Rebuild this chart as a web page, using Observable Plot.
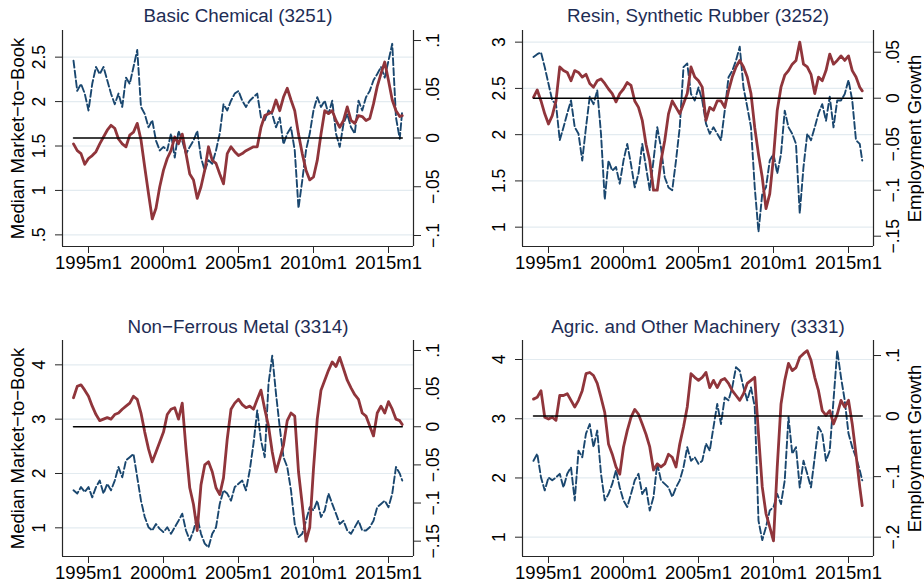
<!DOCTYPE html>
<html>
<head>
<meta charset="utf-8">
<script src="https://cdn.jsdelivr.net/npm/d3@7"></script>
<script src="https://cdn.jsdelivr.net/npm/@observablehq/plot@0.6"></script>
<style>
  html, body { margin: 0; padding: 0; background: #fff; }
  #grid { display: grid; grid-template-columns: 462px 462px; grid-template-rows: 294px 294px; width: 924px; height: 588px; }
  #grid svg { display: block; overflow: visible; }
</style>
</head>
<body>
<div id="grid"></div>
<script>
// Quarterly observations from 1994m1, plus the closing 2015m12 month.
const dates = d3.range(88).map(i => 1994 + i / 4).concat([2015 + 11 / 12]);
const yearTicks = [1995, 2000, 2005, 2010, 2015];

// Basic Chemical (3251)
const chemMtb = [
  2.46, 2.12, 2.20, 2.09,  1.90, 2.20, 2.39, 2.31,  2.39, 2.24, 2.09, 1.97,  2.09, 1.94, 2.27, 2.20,
  2.39, 2.58, 1.94, 1.86,  1.71, 1.79, 1.56, 1.45,  1.49, 1.45, 1.64, 1.37,  1.67, 1.56, 1.41, 1.49,
  1.56, 1.67, 1.37, 1.22,  1.34, 1.30, 1.45, 1.64,  1.97, 1.90, 2.01, 2.09,  2.12, 2.01, 1.94, 2.01,
  2.05, 2.09, 1.82, 1.79,  1.90, 1.86, 1.71, 1.82,  1.52, 1.64, 1.71, 1.45,  0.80, 1.11, 1.45, 1.64,
  1.90, 2.05, 1.94, 2.01,  1.86, 2.01, 1.64, 1.49,  1.75, 1.86, 1.71, 1.64,  2.01, 1.90, 2.05, 2.12,
  2.24, 2.31, 2.39, 2.27,  2.46, 2.65, 1.82, 1.58,  1.90
];
const chemEmp = [
  -0.006, -0.013, -0.016, -0.027,  -0.021, -0.018, -0.014, -0.006,  0.001, 0.008, 0.013, 0.010,  -0.001, -0.006, -0.009, 0.003,
  0.006, 0.015, -0.002, -0.030,  -0.057, -0.083, -0.072, -0.050,  -0.033, -0.021, -0.013, 0.001,  -0.006, 0.004, -0.016, -0.037,
  -0.043, -0.062, -0.050, -0.033,  -0.009, -0.023, -0.026, -0.037,  -0.047, -0.016, -0.009, -0.014,  -0.018, -0.016, -0.013, -0.011,
  -0.009, -0.009, 0.011, 0.023,  0.025, 0.027, 0.039, 0.028,  0.042, 0.051, 0.039, 0.028,  0.004, -0.016, -0.033, -0.043,
  -0.040, -0.023, 0.004, 0.028,  0.025, 0.028, 0.018, 0.011,  0.018, 0.032, 0.018, 0.015,  0.023, 0.022, 0.018, 0.020,
  0.035, 0.053, 0.066, 0.078,  0.059, 0.039, 0.028, 0.022,  0.023
];

// Resin, Synthetic Rubber (3252)
const resinMtb = [
  2.84, 2.87, 2.89, 2.73,  2.55, 2.37, 2.33, 1.94,  2.08, 2.23, 2.37, 2.08,  2.01, 1.72, 2.08, 2.41,
  2.33, 2.48, 2.01, 1.30,  1.72, 1.61, 1.65, 1.47,  1.72, 1.90, 1.68, 1.43,  1.58, 1.90, 1.65, 1.40,
  1.72, 2.08, 1.86, 1.54,  1.43, 1.40, 1.72, 2.08,  2.73, 2.77, 2.44, 2.37,  2.51, 2.37, 2.12, 2.01,
  2.08, 2.01, 1.94, 2.26,  2.62, 2.69, 2.80, 2.95,  2.51, 2.30, 2.08, 1.43,  0.95, 1.36, 1.43, 1.72,
  1.79, 1.58, 1.79, 2.26,  2.08, 2.01, 1.90, 1.15,  1.65, 2.01, 1.94, 2.08,  2.23, 2.33, 2.15, 2.41,
  2.08, 2.37, 2.37, 2.44,  2.59, 2.37, 1.94, 1.90,  1.72
];
const resinEmp = [
  0.001, 0.009, -0.003, -0.017,  -0.028, -0.019, -0.003, 0.034,  0.030, 0.028, 0.019, 0.030,  0.028, 0.023, 0.026, 0.016,
  0.012, 0.019, 0.021, 0.016,  0.010, 0.005, -0.004, 0.005,  0.010, 0.017, 0.014, -0.003,  -0.010, -0.024, -0.050, -0.068,
  -0.100, -0.100, -0.068, -0.046,  -0.017, -0.003, -0.010, -0.017,  -0.006, 0.005, 0.034, 0.023,  0.019, 0.012, -0.024, -0.010,
  -0.013, -0.003, -0.003, -0.010,  0.008, 0.023, 0.034, 0.041,  0.034, 0.023, 0.005, -0.032,  -0.061, -0.086, -0.120, -0.104,
  -0.064, -0.013, 0.012, 0.025,  0.030, 0.037, 0.041, 0.061,  0.037, 0.034, 0.026, 0.005,  0.023, 0.019, 0.030, 0.048,
  0.037, 0.041, 0.046, 0.041,  0.046, 0.030, 0.023, 0.012,  0.008
];

// Non-Ferrous Metal (3314)
const metalMtb = [
  1.69, 1.63, 1.75, 1.66,  1.75, 1.56, 1.75, 1.87,  1.63, 1.81, 1.69, 1.87,  2.12, 1.93, 2.24, 2.30,
  2.36, 1.93, 1.50, 1.20,  1.01, 0.95, 1.07, 0.98,  0.92, 1.01, 0.89, 1.01,  1.13, 1.26, 0.95, 0.77,
  0.95, 1.20, 0.89, 0.71,  0.64, 0.89, 1.01, 1.44,  1.69, 1.63, 1.50, 1.75,  1.81, 1.87, 1.69, 2.06,
  2.55, 3.16, 2.61, 2.30,  3.65, 4.17, 3.47, 2.85,  2.30, 2.12, 1.69, 1.07,  0.83, 0.89, 1.13, 1.38,
  1.32, 1.50, 1.20, 1.32,  1.63, 1.44, 1.26, 1.07,  1.13, 0.95, 0.89, 1.01,  1.13, 0.95, 0.95, 1.01,
  1.13, 1.38, 1.44, 1.50,  1.38, 1.63, 2.12, 2.00,  1.87
];
const metalEmp = [
  0.038, 0.053, 0.055, 0.048,  0.040, 0.027, 0.016, 0.008,  0.010, 0.012, 0.010, 0.016,  0.018, 0.023, 0.027, 0.031,
  0.040, 0.036, 0.018, -0.007,  -0.029, -0.046, -0.033, -0.020,  -0.007, 0.016, 0.023, 0.025,  0.010, 0.031, -0.029, -0.080,
  -0.102, -0.136, -0.076, -0.050,  -0.046, -0.059, -0.080, -0.089,  -0.067, -0.016, 0.023, 0.031,  0.036, 0.029, 0.025, 0.027,
  0.023, 0.036, 0.048, 0.023,  0.001, -0.033, -0.059, -0.042,  -0.024, 0.008, 0.018, 0.014,  -0.059, -0.102, -0.150, -0.132,
  -0.055, 0.010, 0.048, 0.061,  0.074, 0.085, 0.079, 0.091,  0.076, 0.061, 0.051, 0.042,  0.036, 0.018, 0.014, 0.001,
  -0.012, 0.018, 0.027, 0.018,  0.033, 0.023, 0.010, 0.008,  0.003
];

// Agric. and Other Machinery (3331)
const machMtb = [
  2.29, 2.41, 2.01, 1.79,  2.01, 1.96, 2.01, 2.07,  1.84, 2.07, 2.18, 1.62,  2.46, 2.35, 2.75, 2.91,
  2.52, 2.80, 2.07, 1.62,  1.73, 1.90, 2.13, 1.84,  1.62, 1.51, 1.73, 1.96,  2.07, 1.73, 1.84, 1.45,
  1.68, 2.24, 1.96, 1.90,  1.84, 1.68, 1.84, 1.96,  2.18, 2.52, 2.29, 2.35,  2.24, 2.29, 2.58, 2.46,
  2.86, 3.25, 2.91, 3.36,  3.31, 3.53, 3.87, 3.81,  3.53, 3.31, 3.53, 3.20,  1.28, 0.95, 1.17, 1.45,
  1.51, 1.73, 1.56, 1.96,  3.03, 2.41, 2.52, 1.84,  2.29, 2.07, 1.84, 2.35,  2.86, 2.75, 2.29, 2.46,
  3.31, 4.15, 3.70, 3.31,  2.75, 2.52, 2.35, 2.13,  1.96
];
const machEmp = [
  0.028, 0.031, 0.042, -0.002,  -0.005, -0.002, -0.007, 0.034,  0.034, 0.037, 0.026, 0.015,  0.026, 0.042, 0.070, 0.072,
  0.067, 0.054, 0.031, 0.006,  -0.046, -0.063, -0.084, -0.096,  -0.051, -0.024, -0.002, 0.011,  0.003, -0.013, -0.030, -0.051,
  -0.089, -0.079, -0.084, -0.079,  -0.063, -0.068, -0.084, -0.046,  -0.018, 0.015, 0.070, 0.064,  0.059, 0.064, 0.072, 0.047,
  0.059, 0.047, 0.059, 0.062,  0.054, 0.042, 0.034, 0.026,  0.037, 0.054, 0.059, 0.064,  -0.030, -0.117, -0.161, -0.183,
  -0.206, -0.084, 0.020, 0.059,  0.087, 0.075, 0.080, 0.097,  0.103, 0.108, 0.092, 0.064,  0.042, 0.009, 0.001, 0.009,
  -0.013, 0.003, 0.026, 0.015,  0.026, -0.013, -0.063, -0.117,  -0.148
];

const titles = ["Basic Chemical (3251)", "Resin, Synthetic Rubber (3252)", "Non\u2212Ferrous Metal (3314)", "Agric. and Other Machinery  (3331)"];
const leftTitle = "Median Market\u2212to\u2212Book";
const rightTitle = "Employment Growth";

const mtbTicks = [[0.5, 1, 1.5, 2, 2.5], [1, 1.5, 2, 2.5, 3], [1, 2, 3, 4], [1, 2, 3, 4]];
const empTicks = [[-0.1, -0.05, 0, 0.05, 0.1], [-0.15, -0.1, -0.05, 0, 0.05], [-0.15, -0.1, -0.05, 0, 0.05, 0.1], [-0.2, -0.1, 0, 0.1]];

const panels = [
  {title: titles[0], mtb: chemMtb,  emp: chemEmp,  yDomain: [0.369, 2.80], gDomain: [-0.1113, 0.1103], row: 0, col: 0},
  {title: titles[1], mtb: resinMtb, emp: resinEmp, yDomain: [0.791, 3.126], gDomain: [-0.1612, 0.0736], row: 0, col: 1},
  {title: titles[2], mtb: metalMtb, emp: metalEmp, yDomain: [0.472, 4.448], gDomain: [-0.1701, 0.1131], row: 1, col: 0},
  {title: titles[3], mtb: machMtb,  emp: machEmp,  yDomain: [0.674, 4.321], gDomain: [-0.2319, 0.1248], row: 1, col: 1}
];

// Stata-style labels: ".05", "−.1", "0"
const stataNum = v => {
  const s = String(+v.toFixed(3)).replace(/^(-?)0\./, "$1.");
  return s.replace("-", "\u2212");
};

const BLUE = "#1a476f", RED = "#90353b", GRID = "#e3ebf0", AXIS = "#262626", TITLE = "#1e2d55";
const FONT = "'Liberation Sans', Arial, Helvetica, sans-serif";

function drawPanel(p, k) {
  const [yb, yt] = p.yDomain;
  const [gb, gt] = p.gDomain;
  // map employment growth onto the market-to-book scale (right axis)
  const toLeft = g => yb + (g - gb) * (yt - yb) / (gt - gb);
  const mtbRows = dates.map((t, i) => ({t, v: p.mtb[i]}));
  const empRows = dates.map((t, i) => ({t, v: toLeft(p.emp[i])}));
  const zeroRows = [dates[0], dates[dates.length - 1]].map(t => ({t, v: toLeft(0)}));
  const xDomain = [1993.267, 2016.667];
  const top = p.row === 0;
  const left = p.col === 0;
  const centered = {textAnchor: "middle", lineAnchor: "middle"};

  return Plot.plot({
    width: 462,
    height: 294,
    marginLeft: left ? 62 : 60,
    marginRight: left ? 49 : 51,
    marginTop: top ? 30 : 46,
    marginBottom: top ? 48 : 32,
    style: {fontFamily: FONT, fontSize: "18px", color: "#000", background: "#fff", overflow: "visible"},
    x: {domain: xDomain},
    y: {domain: [yb, yt]},
    marks: [
      Plot.ruleY(mtbTicks[k], {stroke: GRID, strokeWidth: 1.2}),
      Plot.lineY(mtbRows, {x: "t", y: "v", stroke: BLUE, strokeWidth: 1.9, strokeDasharray: "7,3"}),
      Plot.lineY(empRows, {x: "t", y: "v", stroke: RED, strokeWidth: 2.8, strokeLinejoin: "round"}),
      Plot.lineY(zeroRows, {x: "t", y: "v", stroke: "#000", strokeWidth: 1.5}),
      // axis lines: left, right, bottom
      Plot.ruleX([xDomain[0], xDomain[1]], {stroke: AXIS, strokeWidth: 1.2}),
      Plot.ruleY([yb], {stroke: AXIS, strokeWidth: 1.2}),
      Plot.axisX({ticks: yearTicks, tickFormat: d => `${d}m1`, tickSize: 7, tickPadding: 2, fontSize: 18.5, stroke: AXIS, label: null}),
      Plot.axisY({anchor: "left", ticks: mtbTicks[k], tickSize: 7, tickFormat: () => "", stroke: AXIS, label: null}),
      Plot.axisY({anchor: "right", ticks: empTicks[k].map(toLeft), tickSize: 7, tickFormat: () => "", stroke: AXIS, label: null}),
      // rotated tick labels
      Plot.text(mtbTicks[k], {y: d => d, text: d => stataNum(d), frameAnchor: "left", dx: -23, rotate: -90, ...centered, fontSize: 17.5}),
      Plot.text(empTicks[k], {y: d => toLeft(d), text: d => stataNum(d), frameAnchor: "right", dx: 20, rotate: -90, ...centered, fontSize: 17.5}),
      // titles
      Plot.text([p.title], {frameAnchor: "top", dy: top ? -15 : -14, ...centered, fontSize: 18.8, fill: TITLE}),
      left ? Plot.text([leftTitle], {frameAnchor: "left", dx: -44, rotate: -90, ...centered, fontSize: 18.5}) : null,
      !left ? Plot.text([rightTitle], {frameAnchor: "right", dx: 42, rotate: -90, ...centered, fontSize: 18.5}) : null
    ]
  });
}

const grid = document.getElementById("grid");
panels.forEach((p, k) => grid.appendChild(drawPanel(p, k)));
</script>
</body>
</html>
